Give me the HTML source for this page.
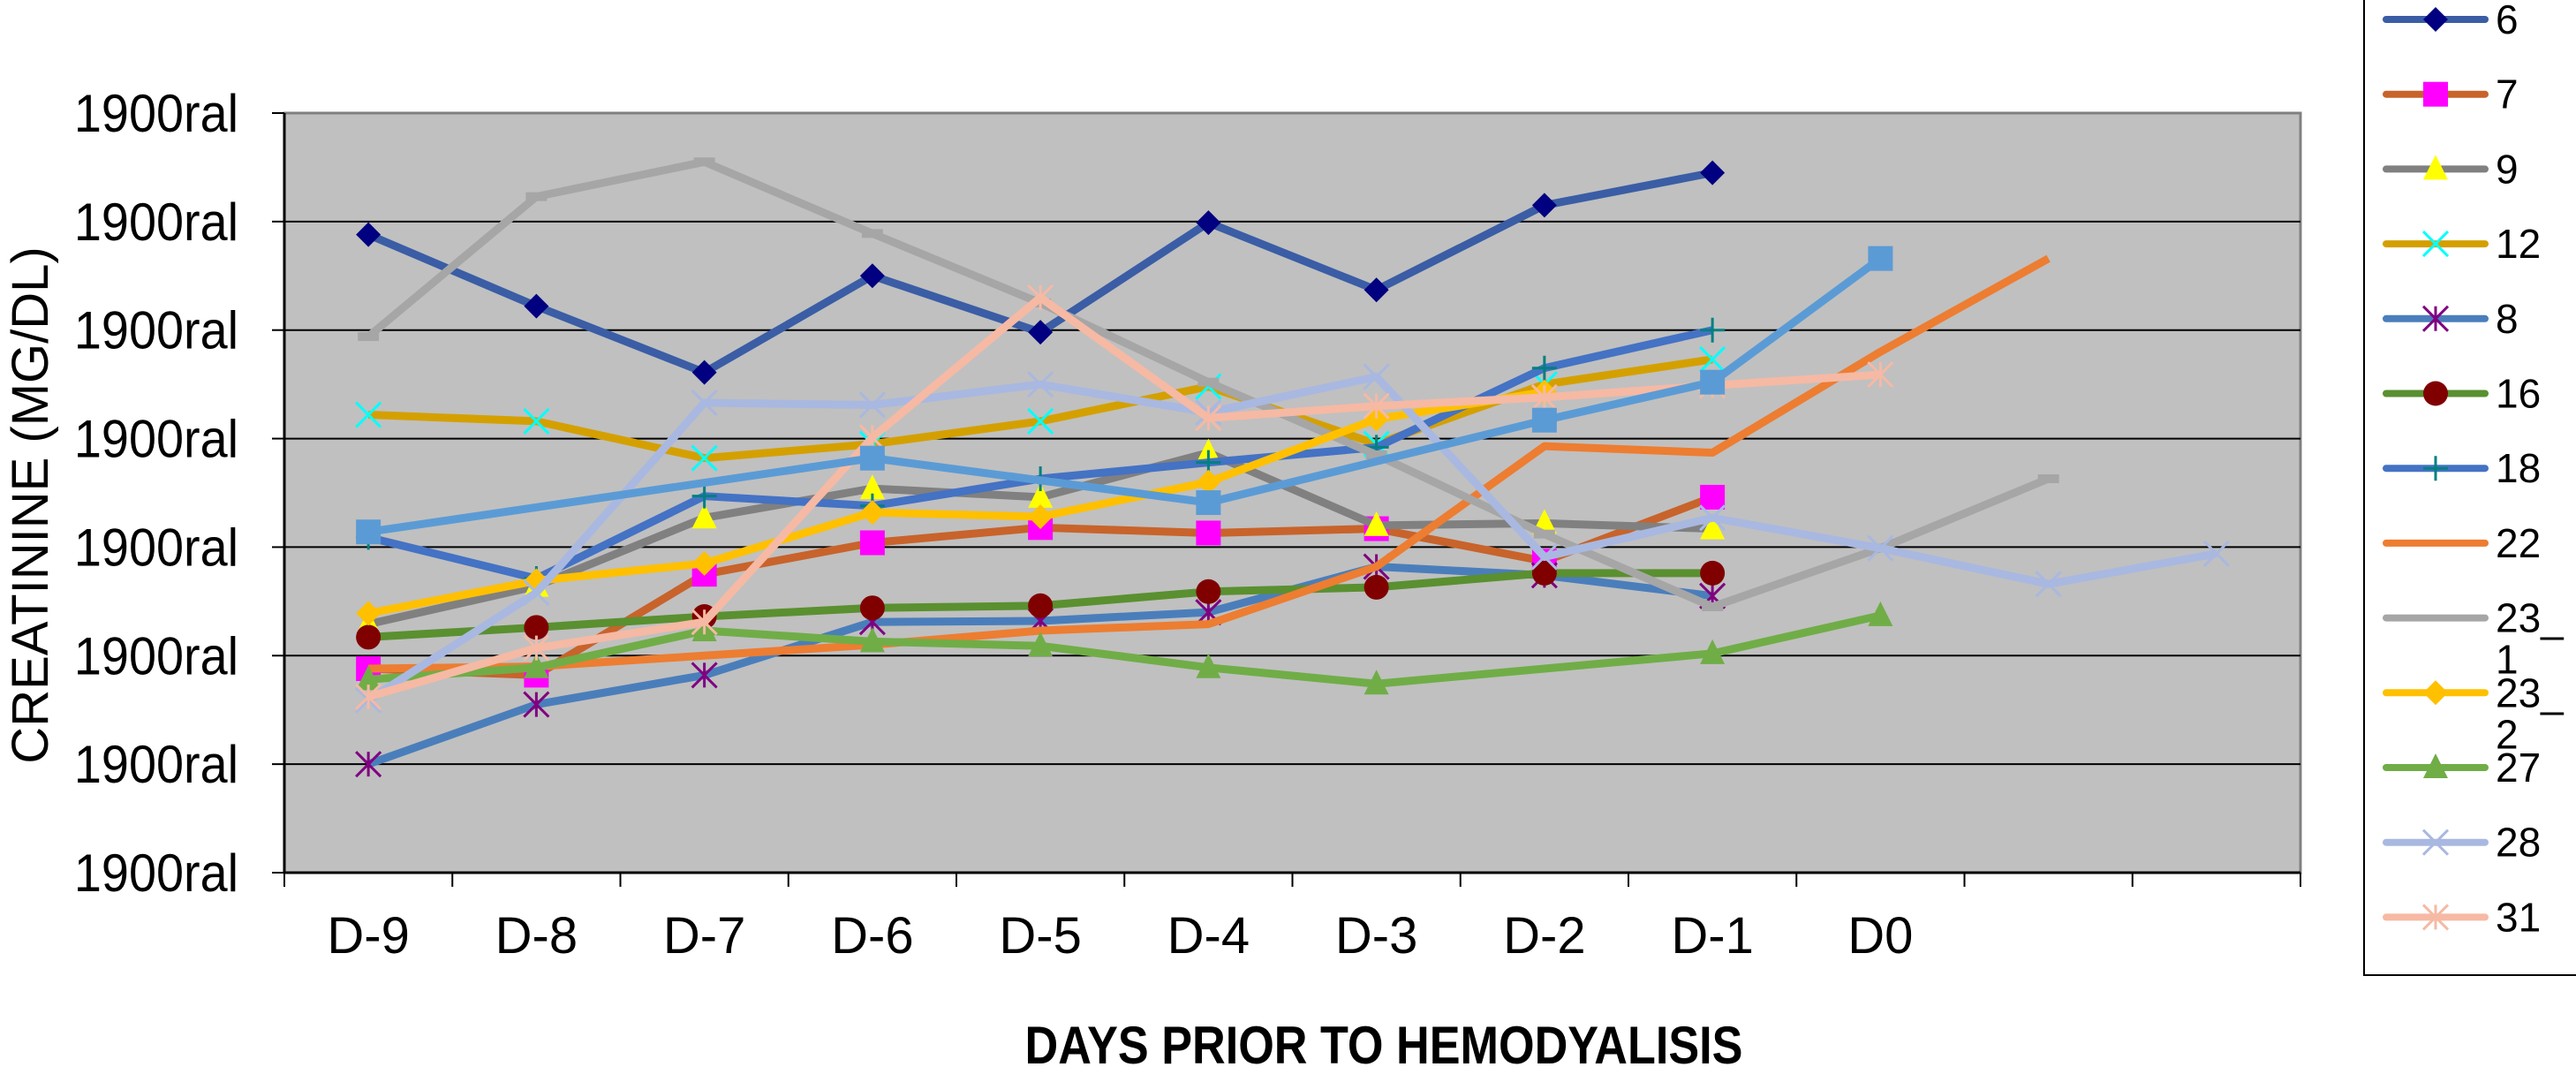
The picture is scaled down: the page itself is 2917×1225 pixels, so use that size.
<!DOCTYPE html>
<html><head><meta charset="utf-8"><style>
html,body{margin:0;padding:0;background:#fff;overflow:hidden;}
svg{display:block;font-family:"Liberation Sans",Arial,sans-serif;}
</style></head><body>
<svg id="chart" width="2917" height="1225" viewBox="0 0 2917 1225" xmlns="http://www.w3.org/2000/svg">
<rect x="322" y="128" width="2283" height="860" fill="#c0c0c0" stroke="#808080" stroke-width="3"/>
<g id="grid"></g><g id="series"></g><g id="axes"></g><g id="legend"></g>
<text transform="translate(54,572) rotate(-90)" text-anchor="middle" font-size="58" fill="#000">CREATININE (MG/DL)</text>
<text x="1567" y="1204" text-anchor="middle" font-size="60" font-weight="bold" fill="#000" transform="translate(1567,0) scale(0.87,1) translate(-1567,0)">DAYS PRIOR TO HEMODYALISIS</text>
</svg>
<script>
const categories = ["D-9","D-8","D-7","D-6","D-5","D-4","D-3","D-2","D-1","D0","",""];
const yTickLabels = ["1900ral","1900ral","1900ral","1900ral","1900ral","1900ral","1900ral","1900ral"];
const s6 = [5.88,5.22,4.61,5.50,4.98,5.99,5.37,6.15,6.45,null,null,null];
const s7 = [1.88,1.82,2.75,3.04,3.18,3.13,3.17,2.87,3.46,null,null,null];
const s9 = [2.29,2.64,3.27,3.54,3.46,3.87,3.20,3.22,3.17,null,null,null];
const s12 = [4.22,4.16,3.82,3.95,4.16,4.48,3.95,4.50,4.73,null,null,null];
const s8 = [1.00,1.55,1.82,2.31,2.32,2.40,2.82,2.74,2.55,null,null,null];
const s16 = [2.17,2.26,2.36,2.44,2.46,2.59,2.63,2.76,2.76,null,null,null];
const s18 = [3.09,2.71,3.47,3.38,3.63,3.78,3.92,4.65,5.00,null,null,null];
const s22 = [1.88,1.90,2.00,2.10,2.23,2.29,2.82,3.93,3.87,4.80,5.66,null];
const s23_1 = [4.94,6.23,6.55,5.89,5.25,4.52,3.85,3.12,2.45,2.99,3.63,null];
const s23_2 = [2.39,2.69,2.85,3.32,3.28,3.60,4.18,4.43,null,null,null,null];
const s27 = [1.78,1.89,2.23,2.13,2.09,1.89,1.74,null,2.02,2.37,null,null];
const s28 = [1.59,2.58,4.33,4.31,4.50,4.24,4.57,2.91,3.27,2.99,2.66,2.94];
const s31 = [1.62,2.07,2.31,4.01,5.30,4.19,4.30,4.38,4.49,4.59,null,null];
const sExtra = [3.14,null,null,3.82,null,3.41,null,4.17,4.52,5.66,null,null];

const NS="http://www.w3.org/2000/svg";
const L=322,T=128,W=2283,H=860,YMAX=7;
const xs=i=>L+W/categories.length*(i+0.5);
const ys=v=>T+H-v/YMAX*H;
function mk(tag,attrs,parent){const e=document.createElementNS(NS,tag);for(const k in attrs)e.setAttribute(k,attrs[k]);parent.appendChild(e);return e;}
const grid=document.getElementById('grid'),axes=document.getElementById('axes'),ser=document.getElementById('series'),leg=document.getElementById('legend');
yTickLabels.forEach((t,i)=>{const y=ys(i);
 if(i>0&&i<YMAX){const g=mk('line',{x1:L,x2:L+W,y1:y,y2:y,stroke:'#000','stroke-width':2},grid);}
 const tk=mk('line',{x1:L-14,x2:L,y1:y,y2:y,stroke:'#000','stroke-width':2},axes);
 const tx=mk('text',{x:270,y:y+21,'text-anchor':'end','font-size':60,transform:'translate(270,0) scale(0.93,1) translate(-270,0)'},axes);tx.textContent=t;
 });
const ax=mk('line',{x1:L,x2:L,y1:T,y2:T+H,stroke:'#000','stroke-width':3},axes);
const bx=mk('line',{x1:L,x2:L+W,y1:T+H,y2:T+H,stroke:'#000','stroke-width':3},axes);
categories.forEach((c,i)=>{const x0=L+W/categories.length*i;
 const tk=mk('line',{x1:x0,x2:x0,y1:T+H,y2:T+H+16,stroke:'#000','stroke-width':2},axes);
 if(c){const tx=mk('text',{x:xs(i),y:1079,'text-anchor':'middle','font-size':58},axes);tx.textContent=c;}});
const last=L+W;const tkr=mk('line',{x1:last,x2:last,y1:T+H,y2:T+H+16,stroke:'#000','stroke-width':2},axes);

function marker(type,x,y,fill,parent){
 const s=14;let e;
 if(type==='diamond')e=mk('polygon',{points:`${x},${y-s} ${x+s},${y} ${x},${y+s} ${x-s},${y}`,fill:fill},parent);
 else if(type==='square')e=mk('rect',{x:x-s,y:y-s,width:2*s,height:2*s,fill:fill},parent);
 else if(type==='triangle')e=mk('polygon',{points:`${x},${y-s-2} ${x+s},${y+s-2} ${x-s},${y+s-2}`,fill:fill},parent);
 else if(type==='circle')e=mk('circle',{cx:x,cy:y,r:s,fill:fill},parent);
 else if(type==='x')e=mk('path',{d:`M${x-s} ${y-s}L${x+s} ${y+s}M${x+s} ${y-s}L${x-s} ${y+s}`,stroke:fill,'stroke-width':3,fill:'none'},parent);
 else if(type==='star')e=mk('path',{d:`M${x-s} ${y-s}L${x+s} ${y+s}M${x+s} ${y-s}L${x-s} ${y+s}M${x} ${y-s}L${x} ${y+s}`,stroke:fill,'stroke-width':3,fill:'none'},parent);
 else if(type==='plus')e=mk('path',{d:`M${x-s} ${y}L${x+s} ${y}M${x} ${y-s}L${x} ${y+s}`,stroke:fill,'stroke-width':3,fill:'none'},parent);
 else if(type==='dash')e=mk('rect',{x:x-12,y:y-5,width:24,height:10,fill:fill},parent);
 return e;}

const series=[
 {n:'6',d:s6,c:'#3a5da5',m:'diamond',mc:'#000080'},
 {n:'7',d:s7,c:'#c8632b',m:'square',mc:'#ff00ff'},
 {n:'9',d:s9,c:'#808080',m:'triangle',mc:'#ffff00'},
 {n:'12',d:s12,c:'#d4a000',m:'x',mc:'#00ffff'},
 {n:'8',d:s8,c:'#4a7ebb',m:'star',mc:'#800080'},
 {n:'16',d:s16,c:'#5a9030',m:'circle',mc:'#800000'},
 {n:'18',d:s18,c:'#4472c4',m:'plus',mc:'#008080'},
 {n:'22',d:s22,c:'#ed7d31',m:null,mc:null},
 {n:'23_1',d:s23_1,c:'#a6a6a6',m:'dash',mc:'#a6a6a6'},
 {n:'23_2',d:s23_2,c:'#ffc000',m:'diamond',mc:'#ffc000'},
 {n:'27',d:s27,c:'#70ad47',m:'triangle',mc:'#70ad47'},
 {n:'28',d:s28,c:'#a9b8e0',m:'x',mc:'#a9b8e0'},
 {n:'31',d:s31,c:'#f6b9a4',m:'star',mc:'#f6b9a4'},
 {n:'',d:sExtra,c:'#5b9bd5',m:'square',mc:'#5b9bd5'}];
series.forEach(s=>{
 const g=mk('g',{},ser);
 const pts=[];s.d.forEach((v,i)=>{if(v!==null)pts.push([xs(i),ys(v)]);});
 const p=mk('polyline',{points:pts.map(q=>q.join(',')).join(' '),fill:'none',stroke:s.c,'stroke-width':9,'stroke-linejoin':'round'},g);
 
 if(s.m)pts.forEach(q=>{const e=marker(s.m,q[0],q[1],s.mc,g);});});

const lb=mk('rect',{x:2677,y:-2,width:250,height:1106,fill:'#fff',stroke:'#000','stroke-width':2},leg);

series.slice(0,13).forEach((s,i)=>{const y=22+i*84.7;
 const g=mk('g',{},leg);
 mk('line',{x1:2702,x2:2814,y1:y,y2:y,stroke:s.c,'stroke-width':8,'stroke-linecap':'round'},g);
 if(s.m&&s.m!=='dash')marker(s.m,2758,y,s.mc,g);
 if(s.n.includes('_')){const parts=s.n.split('_');
  const t1=mk('text',{x:2826,y:y+16,'font-size':46},g);t1.textContent=parts[0]+'_';
  const t2=mk('text',{x:2826,y:y+63,'font-size':46},g);t2.textContent=parts[1];}
 else{const t=mk('text',{x:2826,y:y+16,'font-size':46},g);t.textContent=s.n;}});
</script>
</body></html>
